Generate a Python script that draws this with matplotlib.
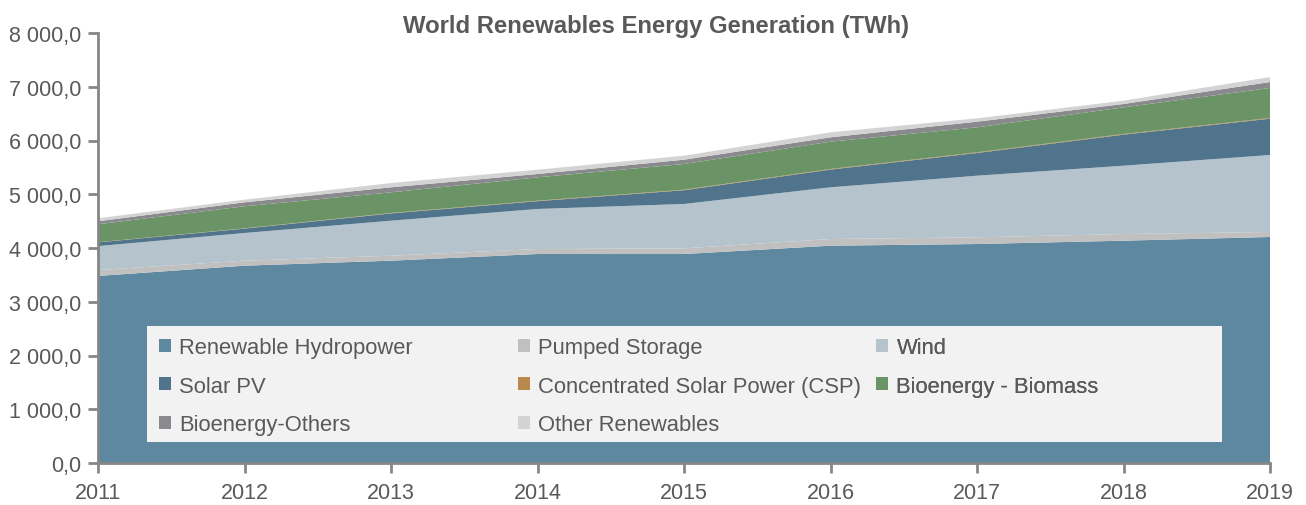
import matplotlib
matplotlib.use("Agg")
import matplotlib.pyplot as plt
from matplotlib.patches import Patch, Rectangle
from matplotlib.ticker import FuncFormatter, MultipleLocator

years = [2011, 2012, 2013, 2014, 2015, 2016, 2017, 2018, 2019]
series_names = ["Renewable Hydropower", "Pumped Storage", "Wind", "Solar PV",
                "Concentrated Solar Power (CSP)", "Bioenergy - Biomass",
                "Bioenergy-Others", "Other Renewables"]
hydro = [3480, 3671, 3764, 3888, 3888, 4043, 4074, 4136, 4205]
pumped = [110, 93, 93, 93, 106, 124, 125, 124, 93]
wind = [445, 515, 651, 745, 825, 962, 1146, 1271, 1432]
solar_pv = [69, 82, 135, 145, 256, 330, 423, 578, 676]
csp = [3, 5, 8, 9, 10, 11, 12, 12, 13]
biomass = [335, 410, 385, 435, 478, 508, 465, 496, 558]
bio_others = [55, 74, 93, 62, 80, 81, 105, 62, 111]
other_ren = [56, 49, 80, 80, 74, 93, 62, 62, 93]

colors = ["#5E87A0", "#C0C0C0", "#B5C3CC", "#50748C", "#B8894A",
          "#6A9466", "#89898E", "#D3D3D3"]

FONT = ["Liberation Sans Narrow", "Liberation Sans", "DejaVu Sans"]
plt.rcParams["font.family"] = FONT
TXT = "#595959"

fig = plt.figure(figsize=(13.06, 5.06), dpi=100)
ax = fig.add_axes([98/1306, 42/506, 1172/1306, 430/506])

ax.stackplot(years, hydro, pumped, wind, solar_pv, csp, biomass, bio_others,
             other_ren, colors=colors, linewidth=0)

ax.set_xlim(2011, 2019)
ax.set_ylim(0, 8000)
ax.yaxis.set_major_locator(MultipleLocator(1000))
ax.set_xticks(years)
ax.set_xticklabels([str(y) for y in years])

def fmt(v, pos):
    return f"{v:,.1f}".replace(",", " ").replace(".", ",")
ax.yaxis.set_major_formatter(FuncFormatter(fmt))

for s in ["top", "right"]:
    ax.spines[s].set_visible(False)
for s in ["left", "bottom"]:
    ax.spines[s].set_color("#868686")
    ax.spines[s].set_linewidth(2)
ax.tick_params(axis="both", colors="#868686", width=2, length=7,
               labelcolor=TXT, labelsize=15.5)
ax.tick_params(axis="y", pad=5)
ax.tick_params(axis="x", pad=7)

fig.text(656 / 1306, 1 - 27 / 506, "World Renewables Energy Generation (TWh)",
         fontsize=17.2, fontweight="bold", color=TXT, ha="center", va="center")

# legend background
x0 = (147 - 98) / 1172
y0 = (464 - 443) / 430
w = (1222 - 147) / 1172
h = (443 - 327) / 430
ax.add_patch(Rectangle((x0, y0), w, h, transform=ax.transAxes,
                       facecolor="#F2F2F2", edgecolor="none", zorder=5))

handles = [Patch(facecolor=c, edgecolor="none") for c in colors]
cols = [[0, 3, 6], [1, 4, 7], [2, 5]]
col_x = [159, 518, 876]
for cx, idx in zip(col_x, cols):
    leg = ax.legend([handles[i] for i in idx], [series_names[i] for i in idx],
                    loc="upper left",
                    bbox_to_anchor=((cx - 98) / 1172, (464 - 338) / 430),
                    frameon=False, fontsize=15.8, handlelength=0.55,
                    handleheight=0.55, handletextpad=0.38, labelspacing=0.8,
                    borderaxespad=0, borderpad=0)
    for t in leg.get_texts():
        t.set_color(TXT)
    leg.set_zorder(6)
    ax.add_artist(leg)

fig.savefig("out.png", dpi=100)
